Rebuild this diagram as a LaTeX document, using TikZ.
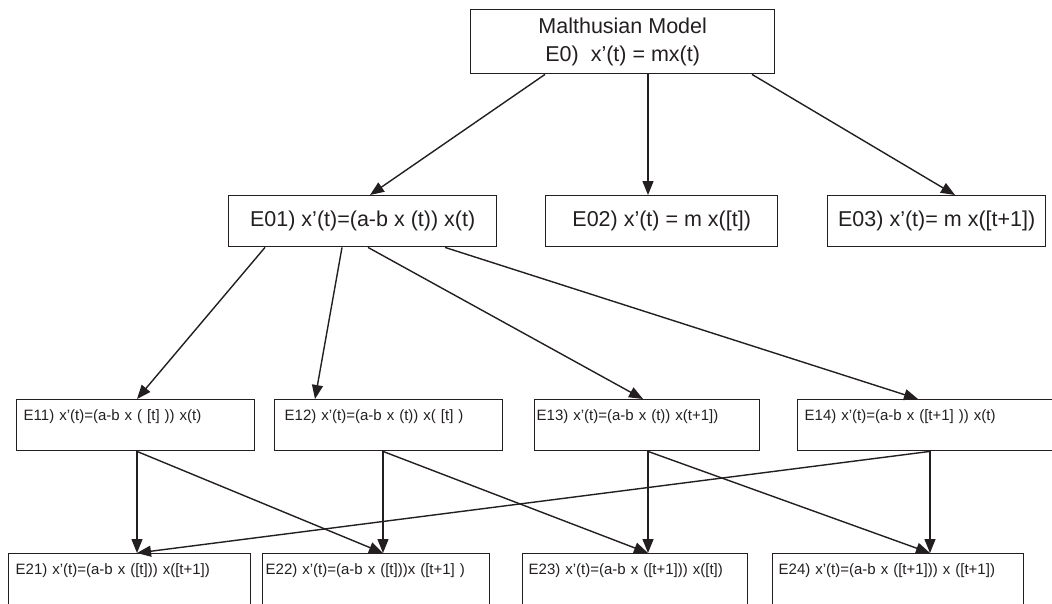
\documentclass[tikz,border=0pt]{standalone}
\usepackage{fontspec}
\setmainfont{Liberation Sans}
\usetikzlibrary{arrows.meta}
\definecolor{InkBlack}{HTML}{231F20}

\begin{document}
\begin{tikzpicture}[x=1pt,y=-1pt,
    every node/.style={draw=InkBlack,line width=1.4pt,text=InkBlack,anchor=north west,inner sep=1pt},
    big/.style={font=\fontsize{21.5}{28}\selectfont,align=center},
    leaf/.style={font=\fontsize{15}{18}\selectfont,align=left,inner ysep=0pt,text height=21pt,text depth=30pt},
    link/.style={draw=InkBlack,line width=1.4pt,-{Triangle[length=14pt,width=11pt]}}]
    \useasboundingbox (0,0) rectangle (1052,603);
    \clip (0,0) rectangle (1052,603);

    % top model
    \node[big,minimum width=304pt,minimum height=64pt] (malthus) at (470,9) {Malthusian Model\\E0)~~x’(t) = mx(t)};

    % first level
    \node[big,minimum width=268pt,minimum height=51pt] (e01) at (228,195) {E01) x’(t)=(a-b x (t)) x(t)};
    \node[big,minimum width=232pt,minimum height=51pt] (e02) at (545,195) {E02) x’(t) = m x([t])};
    \node[big,minimum width=218pt,minimum height=51pt] (e03) at (827,195) {E03) x’(t)= m x([t+1])};

    % second level
    \node[leaf,text width=224pt,inner xsep=7pt] (e11) at (16,399) {E11) x’(t)=(a-b x ( [t] )) x(t)};
    \node[leaf,text width=208pt,inner xsep=10pt] (e12) at (274,399) {E12) x’(t)=(a-b x (t)) x( [t] )};
    \node[leaf,text width=221pt,inner xsep=2pt] (e13) at (534,399) {E13) x’(t)=(a-b x (t)) x(t+1])};
    \node[leaf,text width=250pt,inner xsep=7pt] (e14) at (797,399) {E14) x’(t)=(a-b x ([t+1] )) x(t)};

    % third level
    \node[leaf,text width=228pt,inner xsep=7pt] (e21) at (8,553) {E21) x’(t)=(a-b x ([t])) x([t+1])};
    \node[leaf,text width=221pt,inner xsep=3pt] (e22) at (262,553) {E22) x’(t)=(a-b x ([t]))x ([t+1] )};
    \node[leaf,text width=213pt,inner xsep=6pt] (e23) at (522,553) {E23) x’(t)=(a-b x ([t+1])) x([t])};
    \node[leaf,text width=239pt,inner xsep=6pt] (e24) at (772,553) {E24) x’(t)=(a-b x ([t+1])) x ([t+1])};

    % arrows: source/offset/target/offset
    \foreach \s/\ds/\t/\dt in {malthus/75/e01/142,malthus/178/e02/103,malthus/282/e03/128,
        e01/37/e11/121,e01/114/e12/41,e01/140/e13/109,e01/217/e14/121,
        e11/121/e21/129,e11/121/e22/121,e12/109/e22/121,e12/109/e23/126,
        e13/114/e23/126,e13/114/e24/158,e14/133/e24/158,e14/133/e21/129} {
      \draw[link] ([xshift=\ds pt]\s.south west) -- ([xshift=\dt pt]\t.north west);
    }
\end{tikzpicture}
\end{document}
